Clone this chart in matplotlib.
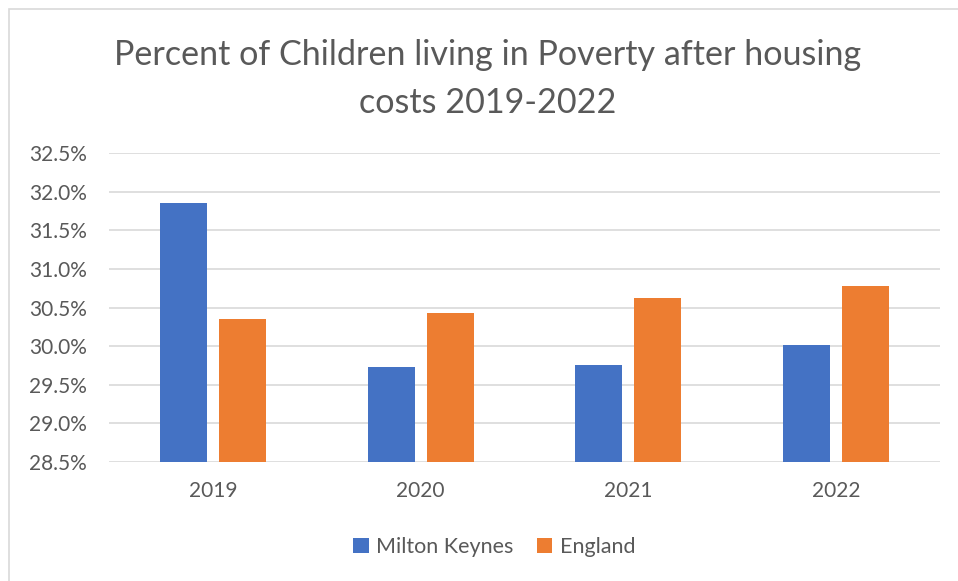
import numpy as np
import matplotlib
matplotlib.use('Agg')
from matplotlib import pyplot as plt
from matplotlib.patches import Rectangle
from matplotlib.ticker import FuncFormatter

years = ['2019', '2020', '2021', '2022']
milton_keynes = [31.86, 29.73, 29.76, 30.01]
england = [30.35, 30.43, 30.62, 30.78]
series_names = ['Milton Keynes', 'England']

plt.rcParams['font.family'] = ['Lato', 'DejaVu Sans']
grey = '#595959'

fig = plt.figure(figsize=(9.58, 5.81), dpi=100)
ax = fig.add_axes([109/958, 1-462/581, (940-109)/958, (462-153.3)/581])

x = np.arange(len(years))
w = 0.226
off = 0.142
ax.bar(x - off, milton_keynes, w, color='#4472c4', label=series_names[0], zorder=3)
ax.bar(x + off, england, w, color='#ed7d31', label=series_names[1], zorder=3)

ax.set_ylim(28.5, 32.5)
ax.set_xlim(-0.5, 3.5)
ax.set_yticks(np.arange(28.5, 32.51, 0.5))
ax.yaxis.set_major_formatter(FuncFormatter(lambda v, p: f'{v:.1f}%'))
ax.set_xticks(x)
ax.set_xticklabels(years)
ax.tick_params(axis='both', length=0, labelsize=15, colors=grey)
ax.tick_params(axis='y', pad=16)
ax.tick_params(axis='x', pad=14)
ax.grid(axis='y', color='#d9d9d9', linewidth=1.2, zorder=0)
for s in ax.spines.values():
    s.set_visible(False)

fig.text(0.509, 1-79/581, 'Percent of Children living in Poverty after housing\ncosts 2019-2022',
         ha='center', va='center', fontsize=24.6, color=grey, linespacing=1.6)

fig.legend(loc='center', bbox_to_anchor=(0.516, 1-547/581), ncol=2, frameon=False,
           fontsize=15.5, labelcolor=grey, handlelength=0.7, handleheight=0.7,
           handletextpad=0.35, columnspacing=1.1)

fig.patches.append(Rectangle((9/958, -0.1), 1.2, 1.1 - 9/581, transform=fig.transFigure,
                             fill=False, edgecolor='#d9d9d9', linewidth=1.2))

fig.savefig('out.png', dpi=100)
